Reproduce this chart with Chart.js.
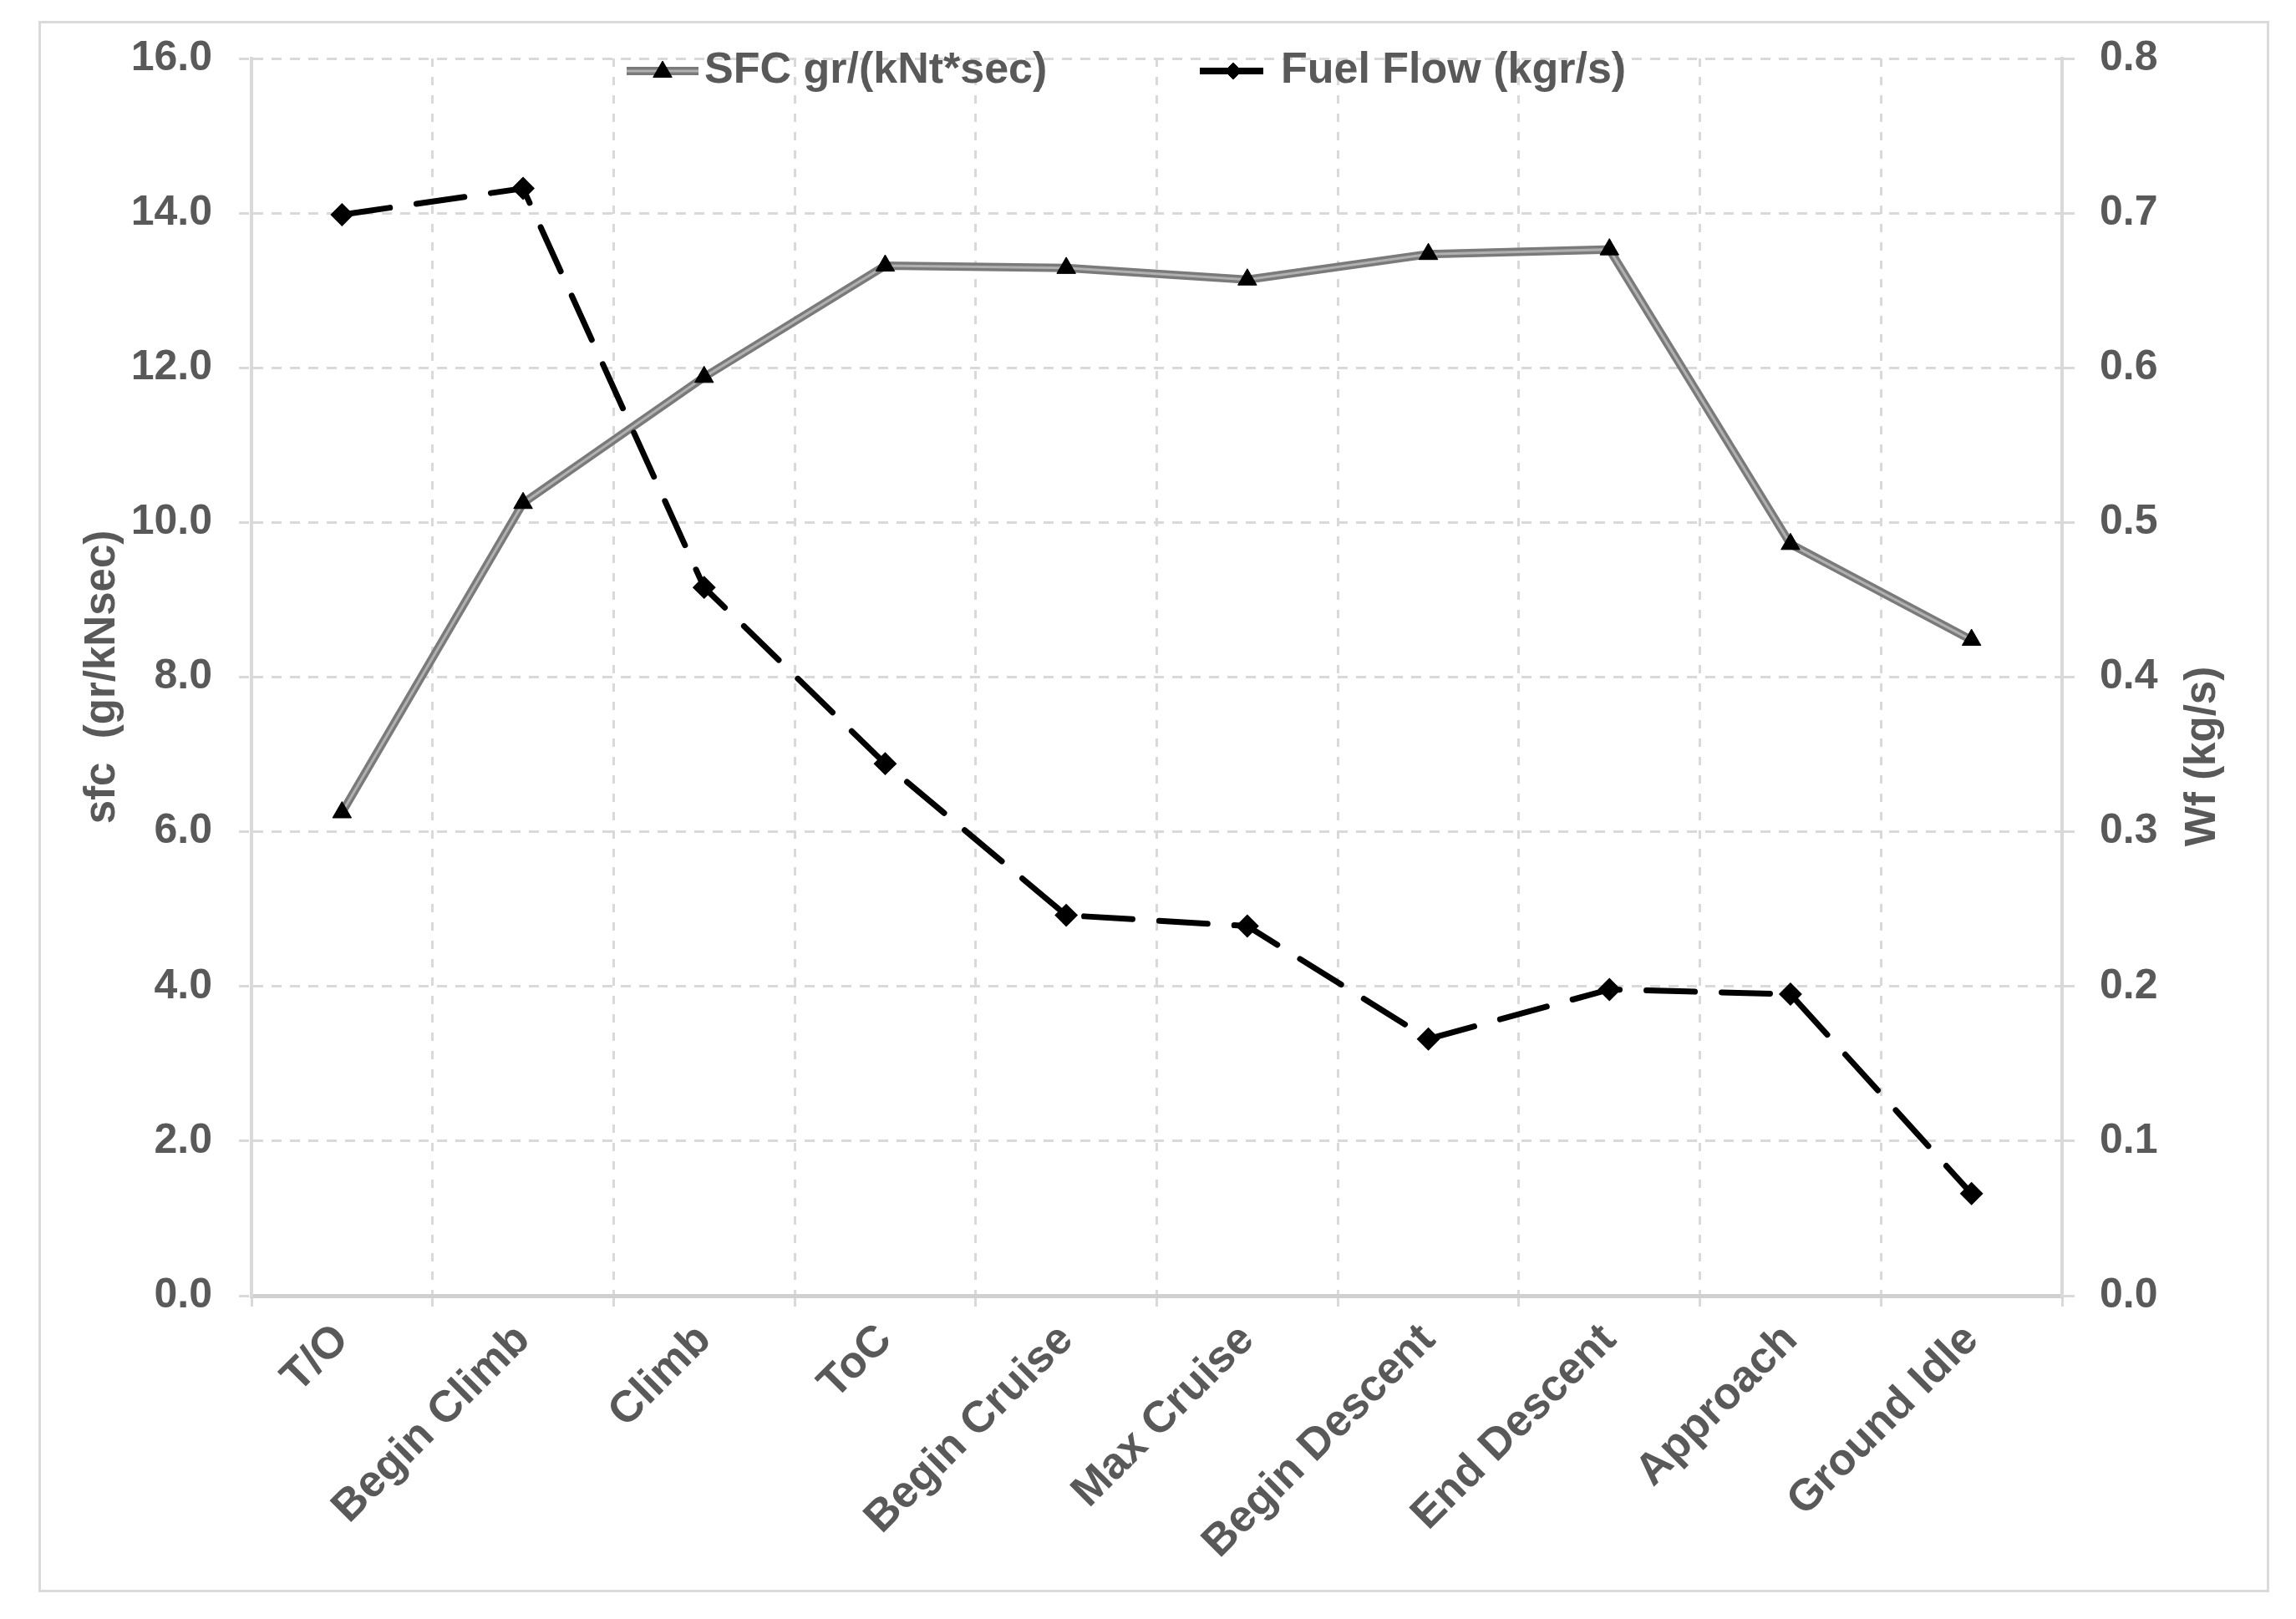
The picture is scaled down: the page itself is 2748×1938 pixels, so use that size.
<!DOCTYPE html>
<html>
<head>
<meta charset="utf-8">
<script src="https://cdn.jsdelivr.net/npm/chart.js@4.4.0/dist/chart.umd.min.js"></script>
<style>
  html, body { margin: 0; padding: 0; background: #fff; }
  #frame { position: absolute; left: 46px; top: 25px; width: 2664px; height: 1875px; border: 3px solid #dadada; }
  #chart { position: absolute; left: 0; top: 0; }
</style>
</head>
<body>
<div id="frame"></div>
<canvas id="chart" width="2748" height="1938"></canvas>
<script>
const categories = ["T/O", "Begin Climb", "Climb", "ToC", "Begin Cruise", "Max Cruise",
    "Begin Descent", "End Descent", "Approach", "Ground Idle"];
const sfc = [6.25, 10.25, 11.88, 13.32, 13.29, 13.14, 13.47, 13.53, 9.72, 8.48];
const fuelFlow = [0.699, 0.716, 0.458, 0.344, 0.246, 0.239, 0.166, 0.198, 0.195, 0.066];
const sfcTicks = [0, 2, 4, 6, 8, 10, 12, 14, 16];
const wfTicks = [0, 0.1, 0.2, 0.3, 0.4, 0.5, 0.6, 0.7, 0.8];

const labelColor = "#595959";
const gridColor = "#d9d9d9";
const font = "'Liberation Sans', Arial, sans-serif";

Chart.defaults.font.family = font;
Chart.defaults.font.weight = "bold";
Chart.defaults.color = labelColor;

// legend + right axis title drawn by hand (line + marker symbols, title reads upward)
const extras = {
    id: "extras",
    afterDraw(c) {
        const ctx = c.ctx;
        const area = c.chartArea;
        ctx.save();
        ctx.font = "bold 52px " + font;
        ctx.textBaseline = "middle";
        const y = area.top + 15;

        // SFC item: double grey line with triangle
        let x = 750;
        ctx.lineCap = "butt";
        ctx.strokeStyle = "#7a7a7a"; ctx.lineWidth = 10;
        ctx.beginPath(); ctx.moveTo(x, y); ctx.lineTo(x + 86, y); ctx.stroke();
        ctx.strokeStyle = "#b0b0b0"; ctx.lineWidth = 3;
        ctx.beginPath(); ctx.moveTo(x, y); ctx.lineTo(x + 86, y); ctx.stroke();
        ctx.fillStyle = "#000"; ctx.strokeStyle = "#000"; ctx.lineWidth = 1;
        Chart.helpers.drawPoint(ctx, { pointStyle: "triangle", radius: 13, borderWidth: 1 }, x + 43, y + 1);
        ctx.fillStyle = labelColor;
        ctx.fillText(c.data.datasets[2].label, x + 93, y);

        // Fuel flow item: black line with diamond
        x = 1436;
        ctx.strokeStyle = "#000"; ctx.lineWidth = 8;
        ctx.beginPath(); ctx.moveTo(x, y); ctx.lineTo(x + 76, y); ctx.stroke();
        ctx.fillStyle = "#000"; ctx.lineWidth = 1;
        Chart.helpers.drawPoint(ctx, { pointStyle: "rectRot", radius: 10, borderWidth: 1 }, x + 40, y);
        ctx.fillStyle = labelColor;
        ctx.fillText(c.data.datasets[3].label, x + 97, y);

        // right axis title
        ctx.font = "bold 51px " + font;
        ctx.textAlign = "center";
        ctx.translate(area.right + 169, (area.top + area.bottom) / 2 + 95);
        ctx.rotate(-Math.PI / 2);
        ctx.fillText("Wf (kg/s)", 0, 0);
        ctx.restore();
    }
};

new Chart(document.getElementById("chart"), {
    type: "line",
    data: {
        labels: categories,
        datasets: [
            {
                // outer part of the double line
                label: "_outer",
                data: sfc,
                yAxisID: "y",
                borderColor: "#7a7a7a",
                borderWidth: 10,
                pointRadius: 0,
                tension: 0,
                order: 5
            },
            {
                // light centre of the double line
                label: "_inner",
                data: sfc,
                yAxisID: "y",
                borderColor: "#b0b0b0",
                borderWidth: 3,
                pointRadius: 0,
                tension: 0,
                order: 4
            },
            {
                label: "SFC gr/(kNt*sec)",
                data: sfc,
                yAxisID: "y",
                showLine: false,
                pointStyle: "triangle",
                pointRadius: 13,
                pointBackgroundColor: "#000",
                pointBorderColor: "#000",
                pointBorderWidth: 1,
                order: 3
            },
            {
                label: "Fuel Flow (kgr/s)",
                data: fuelFlow,
                yAxisID: "y1",
                borderColor: "#000",
                borderWidth: 7,
                borderDash: [58, 32],
                borderCapStyle: "round",
                pointStyle: "rectRot",
                pointRadius: 9,
                pointBackgroundColor: "#000",
                pointBorderColor: "#000",
                tension: 0,
                order: 1
            }
        ]
    },
    options: {
        responsive: false,
        animation: false,
        devicePixelRatio: 1,
        layout: { padding: { left: 92, right: 0, top: 70, bottom: 60 } },
        plugins: {
            legend: { display: false },
            tooltip: { enabled: false }
        },
        scales: {
            x: {
                offset: true,
                grid: {
                    offset: true,
                    color: gridColor,
                    lineWidth: 3,
                    tickLength: 16,
                    tickBorderDash: [10, 12]
                },
                border: { display: true, color: "#d0d0d0", width: 5, dash: [10, 12] },
                ticks: {
                    font: { size: 53, weight: "bold" },
                    color: labelColor,
                    maxRotation: 45,
                    minRotation: 45,
                    padding: 6,
                    autoSkip: false
                },
                afterFit(s) { s.height = 327; }
            },
            y: {
                position: "left",
                min: 0,
                max: 16,
                afterBuildTicks(s) { s.ticks = sfcTicks.map(v => ({ value: v })); },
                grid: {
                    color: gridColor,
                    lineWidth: 3,
                    tickLength: 15,
                    tickBorderDash: [12, 10]
                },
                border: { display: true, color: gridColor, width: 4, dash: [12, 10] },
                ticks: {
                    font: { size: 50, weight: "bold" },
                    color: labelColor,
                    padding: 32,
                    callback: v => v.toFixed(1)
                },
                title: {
                    display: true,
                    text: "sfc  (gr/kNsec)",
                    font: { size: 51, weight: "bold" },
                    color: labelColor,
                    padding: 0
                },
                afterFit(s) { s.width = 209; }
            },
            y1: {
                position: "right",
                min: 0,
                max: 0.8,
                afterBuildTicks(s) { s.ticks = wfTicks.map(v => ({ value: v })); },
                grid: {
                    drawOnChartArea: false,
                    color: gridColor,
                    lineWidth: 3,
                    tickLength: 15
                },
                border: { display: true, color: gridColor, width: 4 },
                ticks: {
                    font: { size: 50, weight: "bold" },
                    color: labelColor,
                    padding: 30,
                    callback: v => v.toFixed(1)
                },
                afterFit(s) { s.width = 280; }
            }
        }
    },
    plugins: [extras]
});
</script>
</body>
</html>
